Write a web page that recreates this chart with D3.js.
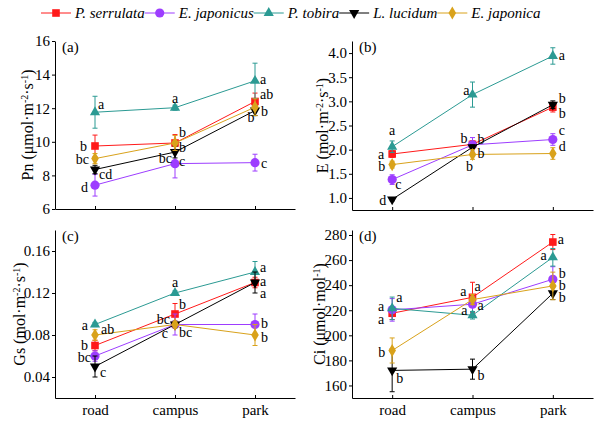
<!DOCTYPE html>
<html><head><meta charset="utf-8">
<script src="https://cdn.jsdelivr.net/npm/d3@7"></script>
<style>body{margin:0;background:#fff}svg{display:block}svg text{font-family:"Times New Roman","Liberation Serif",Times,serif !important}</style>
</head><body><svg id="c" width="599" height="421" font-family="Liberation Serif"></svg>
<script>
const categories = ["road", "campus", "park"];
const seriesNames = ["P. serrulata", "E. japonicus", "P. tobira", "L. lucidum", "E. japonica"];

// Pn
const pnMean = [[9.75, 9.93, 12.4],[7.42, 8.7, 8.76],[11.76, 12.03, 13.63],[8.35, 9.39, 11.86],[9.0, 9.93, 12.06]];
const pnErr  = [[0.65, 0.5, 0.5],[0.65, 0.85, 0.5],[0.95, 0.15, 1.05],[0.25, 0.35, 0.3],[0.3, 0.45, 0.5]];
const pnLetters = [["b","b","ab"],["d","c","c"],["a","a","a"],["cd","bc","b"],["bc","b","b"]];
// E
const eMean = [[1.91, 2.11, 2.88],[1.38, 2.1, 2.21],[2.06, 3.14, 3.94],[0.97, 2.05, 2.93],[1.69, 1.9, 1.92]];
const eErr  = [[0.07, 0.07, 0.1],[0.1, 0.15, 0.12],[0.12, 0.26, 0.17],[0.03, 0.05, 0.08],[0.07, 0.1, 0.12]];
const eLetters = [["a","b","b"],["c","b","c"],["a","a","a"],["d","b","b"],["b","b","d"]];
// Gs
const gsMean = [[0.07, 0.10, 0.13],[0.06, 0.09, 0.09],[0.09, 0.12, 0.14],[0.05, 0.09, 0.13],[0.08, 0.09, 0.08]];
const gsErr  = [[0.005, 0.01, 0.005],[0.005, 0.01, 0.01],[0.002, 0.002, 0.01],[0.01, 0.003, 0.01],[0.005, 0.003, 0.01]];
const gsLetters = [["b","b","a"],["bc","bc","b"],["a","a","a"],["c","c","a"],["ab","bc","b"]];
// Ci
const ciMean = [[217.6, 230.3, 274.4],[220.3, 224.8, 244.7],[221.5, 216.0, 262.2],[172.0, 173.0, 233.5],[187.9, 228.5, 239.4]];
const ciErr  = [[5, 12, 6],[9, 6, 10],[9, 3, 7],[17, 8, 5],[10, 4, 11]];
const ciLetters = [["a","a","a"],["a","a","b"],["a","a","a"],["b","b","b"],["b","a","b"]];

const pnTicks = [6, 8, 10, 12, 14, 16];
const eTicks = [1.0, 1.5, 2.0, 2.5, 3.0, 3.5, 4.0];
const gsTicks = [0.04, 0.08, 0.12, 0.16];
const ciTicks = [160, 180, 200, 220, 240, 260, 280];

// ---- styling / layout (not data) ----
const FONT = '"Times New Roman","Liberation Serif",Times,serif';
const colors = ["#ff1a1a", "#9d3dff", "#2b9a93", "#000000", "#d9a21b"];
const symbols = ["square", "circle", "triUp", "triDown", "diamond"];

// label offsets [dx, dy, anchor] per series per category
const pnOff = [
 [[-8,0,"end"],[4,-11,"start"],[5,-7,"start"]],
 [[-7,2,"end"],[4,-3,"start"],[6,0,"start"]],
 [[3,-8,"start"],[0,-10,"middle"],[5,-2,"start"]],
 [[4,5,"start"],[-3,6,"end"],[-4,7,"middle"]],
 [[-6,0,"end"],[4,4,"start"],[6,4,"start"]]
];
const eOff = [
 [[-8,0,"end"],[-5,-6,"end"],[6,6,"start"]],
 [[3,5,"start"],[5,-6,"start"],[6,-9,"start"]],
 [[0,-17,"middle"],[-3,-4,"end"],[6,-1,"start"]],
 [[-6,1,"end"],[5,6,"start"],[6,-7,"start"]],
 [[-7,1,"end"],[-3,12,"middle"],[6,-7,"start"]]
];
const gsOff = [
 [[-7,0,"end"],[4,-10,"start"],[5,-1,"start"]],
 [[-4,1,"end"],[4,8,"start"],[6,-1,"start"]],
 [[-7,1,"end"],[0,-11,"middle"],[5,-5,"start"]],
 [[5,6,"start"],[-7,9,"end"],[5,11,"start"]],
 [[6,-6,"start"],[-5,-5,"end"],[6,2,"start"]]
];
const ciOff = [
 [[-8,6,"end"],[2,-11,"start"],[5,-3,"start"]],
 [[-8,-4,"end"],[5,1,"start"],[6,-6,"start"]],
 [[4,-11,"start"],[-5,-5,"end"],[-6,-2,"end"]],
 [[4,8,"start"],[5,6,"start"],[6,4,"start"]],
 [[-7,2,"end"],[-6,-8,"end"],[6,-1,"start"]]
];

const panels = [
 {mean: pnMean, err: pnErr, letters: pnLetters, off: pnOff, ticks: pnTicks, fmt: d3.format("d"), dom: [6, 16], x: [55, 295], y: [209, 41], tag: "(a)", title: ["Pn (μmol·m", "-2", "·s", "-1", ")"], titleX: 33, showX: false},
 {mean: eMean, err: eErr, letters: eLetters, off: eOff, ticks: eTicks, fmt: d3.format(".1f"), dom: [0.75, 4.25], x: [352, 593], y: [210, 41], tag: "(b)", title: ["E (mol·m", "-2", "·s", "-1", ")"], titleX: 328, showX: false},
 {mean: gsMean, err: gsErr, letters: gsLetters, off: gsOff, ticks: gsTicks, fmt: d3.format(".2f"), dom: [0.02, 0.18], x: [55, 295], y: [398, 230], tag: "(c)", title: ["Gs (mol·m", "-2", "·s", "-1", ")"], titleX: 25, showX: true},
 {mean: ciMean, err: ciErr, letters: ciLetters, off: ciOff, ticks: ciTicks, fmt: d3.format("d"), dom: [150, 284], x: [352, 593], y: [398, 230], tag: "(d)", title: ["Ci (μmol·mol", "-1", ")"], titleX: 325, showX: true}
];

const svg = d3.select("#c");

function drawSymbol(g, type, cx, cy, color) {
  if (type === "square") {
    g.append("rect").attr("x", cx - 3.8).attr("y", cy - 3.8).attr("width", 7.6).attr("height", 7.6).attr("fill", color);
  } else if (type === "circle") {
    g.append("circle").attr("cx", cx).attr("cy", cy).attr("r", 4.6).attr("fill", color);
  } else {
    const sym = type === "diamond" ? d3.symbolDiamond : d3.symbolTriangle;
    const size = type === "diamond" ? 50 : 45;
    const p = g.append("path").attr("d", d3.symbol().type(sym).size(size)()).attr("fill", color);
    let tr = `translate(${cx},${cy})`;
    if (type === "triDown") tr += " rotate(180)";
    p.attr("transform", tr);
  }
}

panels.forEach(P => {
  const g = svg.append("g");
  const xs = d3.scalePoint().domain(categories).range(P.x).padding(0.5);
  const ys = d3.scaleLinear().domain(P.dom).range(P.y);

  const ya = d3.axisLeft(ys).tickValues(P.ticks).tickFormat(P.fmt).tickSize(3).tickSizeOuter(0);
  const yg = g.append("g").attr("transform", `translate(${P.x[0]},0)`).call(ya).attr("font-family", FONT);
  yg.select(".domain").attr("stroke", "#000").attr("stroke-width", 1);
  yg.selectAll(".tick line").attr("stroke", "#000");
  yg.selectAll(".tick text").attr("font-size", 15).attr("fill", "#000").attr("x", -5).style("font-family", FONT);

  const xa = d3.axisBottom(xs).tickSize(-3).tickSizeOuter(0).tickFormat(P.showX ? (d => d) : "");
  const xg = g.append("g").attr("transform", `translate(0,${P.y[0]})`).call(xa).attr("font-family", FONT);
  xg.select(".domain").attr("stroke", "#000");
  xg.selectAll(".tick line").attr("stroke", "#000");
  xg.selectAll(".tick text").attr("font-size", 15).attr("fill", "#000").attr("y", 6).style("font-family", FONT);

  g.append("text").attr("x", P.x[0] + 7).attr("y", P.y[1] + 11).attr("font-size", 15).style("font-family", FONT).text(P.tag);

  const cy = (P.y[0] + P.y[1]) / 2;
  const t = g.append("text").attr("transform", `translate(${P.titleX},${cy}) rotate(-90)`).attr("text-anchor", "middle").attr("font-size", 16).style("font-family", FONT);
  P.title.forEach((s, i) => {
    const ts = t.append("tspan").text(s);
    if (i % 2 === 1) ts.attr("font-size", 10).attr("baseline-shift", "super");
  });

  P.mean.forEach((vals, si) => {
    const col = colors[si];
    const sg = g.append("g");
    const line = d3.line().x((d, i) => xs(categories[i])).y(d => ys(d));
    sg.append("path").attr("d", line(vals)).attr("fill", "none").attr("stroke", col).attr("stroke-width", 1);
    vals.forEach((v, ci) => {
      const cx = xs(categories[ci]);
      const e = P.err[si][ci];
      const y1 = ys(v + e), y2 = ys(v - e);
      sg.append("line").attr("x1", cx).attr("x2", cx).attr("y1", y1).attr("y2", y2).attr("stroke", col).attr("stroke-width", 1);
      [y1, y2].forEach(yy => sg.append("line").attr("x1", cx - 2.5).attr("x2", cx + 2.5).attr("y1", yy).attr("y2", yy).attr("stroke", col).attr("stroke-width", 1));
      drawSymbol(sg, symbols[si], cx, ys(v), col);
    });
  });

  P.letters.forEach((row, si) => {
    row.forEach((lab, ci) => {
      const o = P.off[si][ci];
      g.append("text").attr("x", xs(categories[ci]) + o[0]).attr("y", ys(P.mean[si][ci]) + o[1])
        .attr("dy", "0.35em").attr("text-anchor", o[2]).attr("font-size", 14).attr("fill", "#000").style("font-family", FONT).text(lab);
    });
  });
});

const lg = svg.append("g");
let lx = 41;
const ly = 13;
seriesNames.forEach((name, i) => {
  lg.append("line").attr("x1", lx).attr("x2", lx + 30).attr("y1", ly).attr("y2", ly).attr("stroke", colors[i]).attr("stroke-width", 1);
  drawSymbol(lg, symbols[i], lx + 15, ly, colors[i]);
  const tx = lg.append("text").attr("x", lx + 34).attr("y", ly).attr("dy", "0.35em").attr("font-size", 15).attr("font-style", "italic").style("font-family", FONT).text(name);
  lx = lx + 34 + tx.node().getComputedTextLength();
});
</script></body></html>
